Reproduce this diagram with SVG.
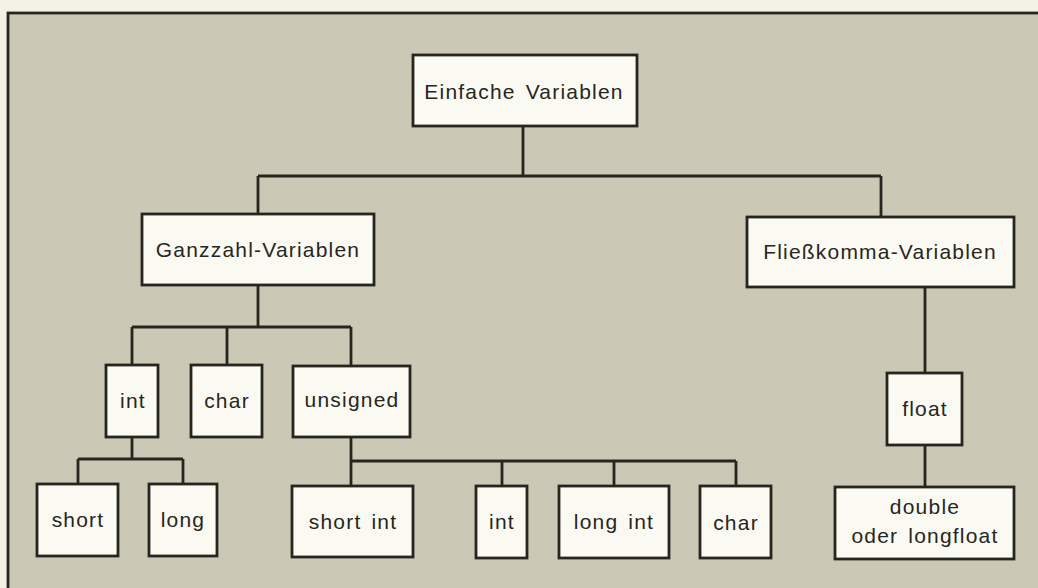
<svg xmlns="http://www.w3.org/2000/svg" width="1038" height="588" viewBox="0 0 1038 588">
<style>
.bg{fill:#f3f1e6}
.panel{fill:#cbc8b5;stroke:#26261e;stroke-width:2.8}
.box{fill:#fbfaf2;stroke:#26261e;stroke-width:2.8}
.conn{fill:none;stroke:#26261e;stroke-width:2.8}
text{font-family:"Liberation Sans",Arial,sans-serif;font-size:21px;fill:#26261e;text-anchor:middle;letter-spacing:1.2px;word-spacing:3px}
</style>
<rect class="bg" x="0" y="0" width="1038" height="588"/>
<rect class="panel" x="8" y="13" width="1040" height="590"/>
<g id="connectors">
<path class="conn" d="M523 126V176M258 176H881M258 176V214M881 176V217"/>
<path class="conn" d="M258 285V327M132 327H351M132 327V365M227 327V365M351 327V366"/>
<path class="conn" d="M132 437V459M78 459H183M78 459V484M183 459V484"/>
<path class="conn" d="M351 437V461H736M351 461V486M502 461V486M614 461V486M736 461V486"/>
<path class="conn" d="M925 287V373M925 445V487"/>
</g>
<g id="n-root"><rect class="box" x="413" y="55" width="224" height="71"/><text x="524" y="99">Einfache Variablen</text></g>
<g id="n-ganzzahl"><rect class="box" x="142" y="214" width="232" height="71"/><text x="258" y="257">Ganzzahl-Variablen</text></g>
<g id="n-fliess"><rect class="box" x="747" y="217" width="267" height="70"/><text x="880" y="259">Fließkomma-Variablen</text></g>
<g id="n-int"><rect class="box" x="106" y="365" width="52" height="72"/><text x="133" y="408">int</text></g>
<g id="n-char"><rect class="box" x="191" y="365" width="71" height="72"/><text x="227" y="408">char</text></g>
<g id="n-unsigned"><rect class="box" x="293" y="366" width="117" height="71"/><text x="352" y="407">unsigned</text></g>
<g id="n-short"><rect class="box" x="37" y="484" width="81" height="72"/><text x="78" y="527">short</text></g>
<g id="n-long"><rect class="box" x="149" y="484" width="68" height="72"/><text x="183" y="527">long</text></g>
<g id="n-shortint"><rect class="box" x="292" y="486" width="121" height="71"/><text x="353" y="529">short int</text></g>
<g id="n-uint"><rect class="box" x="476" y="486" width="51" height="72"/><text x="502" y="529">int</text></g>
<g id="n-longint"><rect class="box" x="559" y="486" width="110" height="72"/><text x="614" y="529">long int</text></g>
<g id="n-uchar"><rect class="box" x="700" y="486" width="71" height="72"/><text x="736" y="530">char</text></g>
<g id="n-float"><rect class="box" x="887" y="373" width="75" height="72"/><text x="925" y="416">float</text></g>
<g id="n-double"><rect class="box" x="835" y="487" width="179" height="72"/><text x="925" y="514">double</text><text x="925" y="543">oder longfloat</text></g>
</svg>
